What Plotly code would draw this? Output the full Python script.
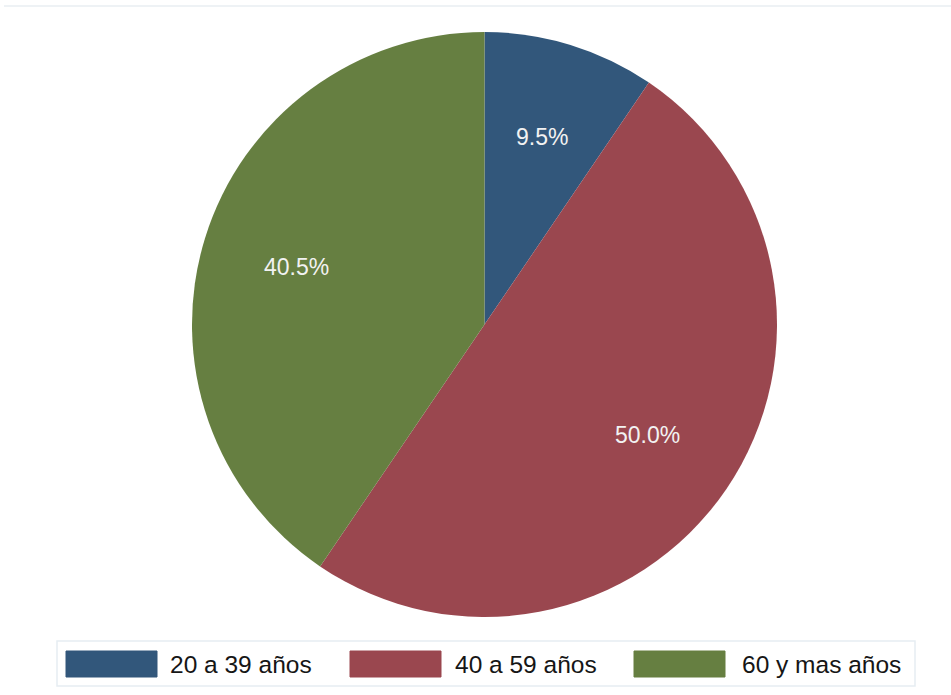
import math
import plotly.graph_objects as go

# Age group shares
categories = ["20 a 39 años", "40 a 59 años", "60 y mas años"]
shares = [9.5, 50.0, 40.5]
colors = ["#32577b", "#9a474f", "#667f41"]

W, H = 951, 695
# pie circle geometry in pixels
cx, cy, R = 484.5, 324.5, 292.5

fig = go.Figure(go.Pie(
    labels=categories,
    values=shares,
    sort=False,
    direction="clockwise",
    rotation=0,
    marker=dict(colors=colors, line=dict(width=0)),
    textinfo="none",
    hoverinfo="label+percent",
    showlegend=False,
    domain=dict(x=[(cx - R) / W, (cx + R) / W],
                y=[1 - (cy + R) / H, 1 - (cy - R) / H]),
))

annotations = []
shapes = []

# percentage labels at two thirds of the radius, on each slice's mid-angle
total = sum(shares)
start = 0.0
for v in shares:
    mid = (start + v / 2) / total * 2 * math.pi
    r = 0.672 * R
    px = cx + r * math.sin(mid)
    py = cy - r * math.cos(mid)
    annotations.append(dict(
        x=px / W, y=1 - py / H, xref="paper", yref="paper",
        text=f"{v:.1f}%", showarrow=False,
        font=dict(family="Liberation Sans, Arial", size=23, color="#f2f2f2"),
        xanchor="center", yanchor="middle",
    ))
    start += v

# top rule
shapes.append(dict(type="line", xref="paper", yref="paper",
                   x0=4 / W, x1=1, y0=1 - 6 / H, y1=1 - 6 / H,
                   line=dict(color="#eef2f5", width=2)))

# legend frame
shapes.append(dict(type="rect", xref="paper", yref="paper",
                   x0=57 / W, x1=915 / W, y0=1 - 686 / H, y1=1 - 641 / H,
                   line=dict(color="#e6edf2", width=1.5), fillcolor="white"))

swatch_x = [66, 350, 634]
text_x = [168, 453, 740]
for c, name, sx, tx in zip(colors, categories, swatch_x, text_x):
    shapes.append(dict(type="rect", xref="paper", yref="paper",
                       x0=sx / W, x1=(sx + 91) / W,
                       y0=1 - 677 / H, y1=1 - 651 / H,
                       line=dict(color=c, width=1), fillcolor=c))
    annotations.append(dict(
        x=tx / W, y=1 - 664 / H, xref="paper", yref="paper",
        text=name, showarrow=False,
        font=dict(family="Liberation Sans, Arial", size=24.5, color="#161616"),
        xanchor="left", yanchor="middle",
    ))

fig.update_layout(
    width=W, height=H,
    margin=dict(l=0, r=0, t=0, b=0),
    paper_bgcolor="white",
    plot_bgcolor="white",
    annotations=annotations,
    shapes=shapes,
)

fig.write_html("out.html")
